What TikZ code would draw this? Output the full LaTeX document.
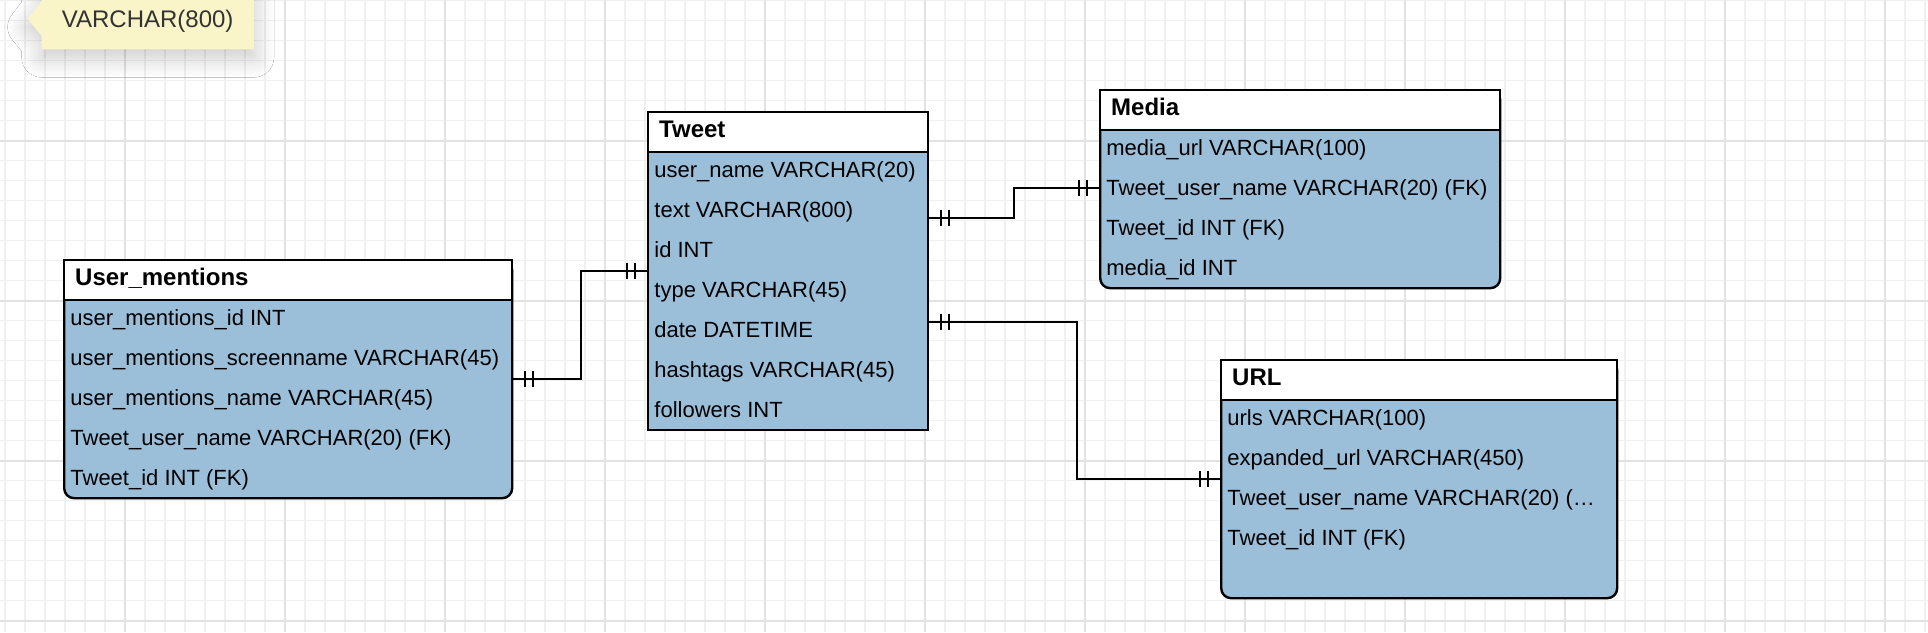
\documentclass[tikz,border=0pt]{standalone}
\usepackage{fontspec}
\setmainfont{Liberation Sans}
\usepackage{tikz}
\usetikzlibrary{calc,positioning,decorations.markings,shadows.blur}
\definecolor{erblue}{RGB}{155,191,217}
\definecolor{gridminor}{RGB}{240,240,240}
\definecolor{gridmajor}{RGB}{226,226,226}
\definecolor{tipyellow}{RGB}{250,245,200}
\definecolor{tiptext}{RGB}{51,51,51}

\begin{document}
\begin{tikzpicture}[x=0.5pt,y=-0.5pt]

\tikzset{tbody/.style={
  rectangle,
  inner sep=0pt,
  anchor=north west,
  draw=black, fill=erblue,
  line width=1.2pt
  },
  thead/.style={
  rectangle,
  inner xsep=5.5pt, inner ysep=0pt,
  anchor=north west,
  align=left,
  draw=black, fill=white,
  line width=1.2pt,
  minimum height=20pt,
  text height=8.5pt, text depth=3pt,
  font=\fontsize{12}{14}\selectfont\bfseries
  },
  row/.style={anchor=base west, inner sep=0pt, font=\fontsize{11}{13}\selectfont},
  minorgrid/.style={draw=gridminor, line width=0.75pt},
  majorgrid/.style={draw=gridmajor, line width=1pt},
  erline/.style={draw=black, line width=1pt,
  postaction={decorate, decoration={markings,
    mark=at position 6pt with {\draw[line width=1pt] (0,-8) -- (0,8);},
    mark=at position 10pt with {\draw[line width=1pt] (0,-8) -- (0,8);},
    mark=at position -6pt with {\draw[line width=1pt] (0,-8) -- (0,8);},
    mark=at position -10pt with {\draw[line width=1pt] (0,-8) -- (0,8);}}}}
}

\fill[white] (0,0) rectangle (1928,632);
\useasboundingbox (0,0) rectangle (1928,632);

% grid
\foreach \gx in {5,25,...,1925} \draw[minorgrid] (\gx,0) -- (\gx,632);
\foreach \gy in {0.5,20.5,...,620.5} \draw[minorgrid] (0,\gy) -- (1928,\gy);
\foreach \gx in {125,285,...,1885} \draw[majorgrid] (\gx,0) -- (\gx,632);
\foreach \gy in {140.5,300.5,460.5,620.5} \draw[majorgrid] (0,\gy) -- (1928,\gy);

% tooltip
\fill[tipyellow, blur shadow={shadow xshift=0pt, shadow yshift=-4pt, shadow blur radius=10pt, shadow blur steps=12, shadow opacity=22}]
  (41.7,-20) -- (41.7,1) -- (27.7,19) -- (41.7,36) -- (41.7,49.3) -- (254,49.3) -- (254,-20) -- cycle;
\node[inner sep=0pt, text=tiptext, font=\fontsize{12}{14}\selectfont] (tip) at (147.7,21.5) {VARCHAR(800)};

% User_mentions
\node[tbody, rounded corners=5pt, minimum width=224pt, minimum height=119pt] (umbody) at (63,259) {};
\node[thead, minimum width=224pt, text width=213pt] (umhead) at (63,259) {User\_mentions};
\node[row] (um1) at (70,325) {user\_mentions\_id INT};
\node[row] (um2) at (70,365) {user\_mentions\_screenname VARCHAR(45)};
\node[row] (um3) at (70,405) {user\_mentions\_name VARCHAR(45)};
\node[row] (um4) at (70,445) {Tweet\_user\_name VARCHAR(20) (FK)};
\node[row] (um5) at (70,485) {Tweet\_id INT (FK)};

% Tweet
\node[tbody, minimum width=140pt, minimum height=159pt] (twbody) at (647,111) {};
\node[thead, minimum width=140pt, text width=129pt] (twhead) at (647,111) {Tweet};
\node[row] (tw1) at (654,177) {user\_name VARCHAR(20)};
\node[row] (tw2) at (654,217) {text VARCHAR(800)};
\node[row] (tw3) at (654,257) {id INT};
\node[row] (tw4) at (654,297) {type VARCHAR(45)};
\node[row] (tw5) at (654,337) {date DATETIME};
\node[row] (tw6) at (654,377) {hashtags VARCHAR(45)};
\node[row] (tw7) at (654,417) {followers INT};

% Media
\node[tbody, rounded corners=5pt, minimum width=200pt, minimum height=99pt] (mdbody) at (1099,89) {};
\node[thead, minimum width=200pt, text width=189pt] (mdhead) at (1099,89) {Media};
\node[row] (md1) at (1106,155) {media\_url VARCHAR(100)};
\node[row] (md2) at (1106,195) {Tweet\_user\_name VARCHAR(20) (FK)};
\node[row] (md3) at (1106,235) {Tweet\_id INT (FK)};
\node[row] (md4) at (1106,275) {media\_id INT};

% URL
\node[tbody, rounded corners=5pt, minimum width=198pt, minimum height=119pt] (urbody) at (1220,359) {};
\node[thead, minimum width=198pt, text width=187pt] (urhead) at (1220,359) {URL};
\node[row] (ur1) at (1227,425) {urls VARCHAR(100)};
\node[row] (ur2) at (1227,465) {expanded\_url VARCHAR(450)};
\node[row] (ur3) at (1227,505) {Tweet\_user\_name VARCHAR(20) (…};
\node[row] (ur4) at (1227,545) {Tweet\_id INT (FK)};

% relations
\coordinate (umR) at ($(umbody.north east)+(0,120)$);
\coordinate (twL) at ($(twbody.north west)+(0,160)$);
\coordinate (twR1) at ($(twbody.north east)+(0,107)$);
\coordinate (twR2) at ($(twbody.north east)+(0,211)$);
\coordinate (mdL) at ($(mdbody.north west)+(0,99)$);
\coordinate (urL) at ($(urbody.north west)+(0,120)$);

\draw[erline] (umR) -- ++(68,0) |- (twL);
\draw[erline] (twR1) -- ++(85,0) |- (mdL);
\draw[erline] (twR2) -- ++(148,0) |- (urL);
\end{tikzpicture}
\end{document}
